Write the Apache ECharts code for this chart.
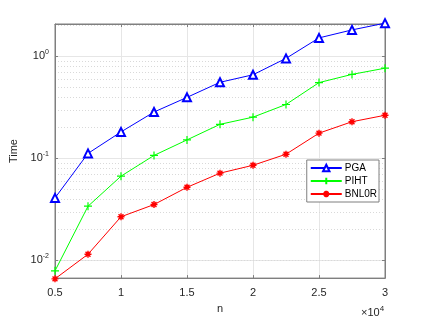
<!DOCTYPE html>
<html><head><meta charset="utf-8">
<script src="https://cdn.jsdelivr.net/npm/echarts@6/dist/echarts.min.js"></script>
<style>html,body{margin:0;padding:0;background:#fff}#c{width:425px;height:319px}</style>
</head><body><div id="c"></div>
<script>
const nValues = [5000, 7500, 10000, 12500, 15000, 17500, 20000, 22500, 25000, 27500, 30000];
const pga   = [0.041, 0.112, 0.182, 0.285, 0.397, 0.558, 0.661, 0.957, 1.52, 1.82, 2.12];
const piht  = [0.0079, 0.034, 0.067, 0.107, 0.152, 0.216, 0.254, 0.338, 0.554, 0.667, 0.767];
const bnl0r = [0.0066, 0.0115, 0.0268, 0.0353, 0.0521, 0.0717, 0.0857, 0.110, 0.177, 0.229, 0.265];
const seriesNames = ['PGA', 'PIHT', 'BNL0R'];
const xTicks = [5000, 10000, 15000, 20000, 25000, 30000];
const minorGrid = [0.007, 0.008, 0.009, 0.02, 0.03, 0.04, 0.05, 0.06, 0.07, 0.08, 0.09,
                   0.2, 0.3, 0.4, 0.5, 0.6, 0.7, 0.8, 0.9, 2];

const FONT = 'Liberation Sans';
const pair = arr => arr.map((v, i) => [nValues[i], v]);
const plusPath = 'path://M5,0 L5,10 M0,5 L10,5';
const starPath = 'path://M5,0 L5,10 M0,5 L10,5 M1.5,1.5 L8.5,8.5 M8.5,1.5 L1.5,8.5';
const logFmt = v => {
  const e = Math.log10(v);
  if (Math.abs(e - Math.round(e)) > 1e-6) return '';
  return '10{s|' + Math.round(e) + '}';
};
const chart = echarts.init(document.getElementById('c'), null, {renderer: 'canvas'});
const gridLeft = 55, gridRight = 40, gridTop = 24, gridBottom = 36;
chart.setOption({
  animation: false,
  backgroundColor: '#fff',
  textStyle: {fontFamily: FONT},
  grid: {left: gridLeft, right: gridRight, top: gridTop, bottom: gridBottom, show: true,
         borderColor: '#7f7f7f', borderWidth: 1, backgroundColor: '#fff'},
  legend: {
    orient: 'vertical', right: 46, top: 160,
    backgroundColor: '#fff', borderColor: '#7f7f7f', borderWidth: 1,
    padding: [3, 2, 3, 3], itemGap: 3, itemWidth: 31, itemHeight: 8,
    textStyle: {fontFamily: FONT, fontSize: 10, color: '#000', padding: [0, 0, 0, -2]},
    data: seriesNames
  },
  xAxis: [{
    type: 'value', min: 5000, max: 30000, interval: 5000,
    name: 'n', nameLocation: 'middle', nameGap: 24,
    nameTextStyle: {fontFamily: FONT, fontSize: 11, color: '#262626'},
    axisLine: {show: true, lineStyle: {color: '#7f7f7f'}},
    axisTick: {show: true, inside: true, length: 3, lineStyle: {color: '#7f7f7f'}},
    axisLabel: {fontFamily: FONT, fontSize: 11, color: '#262626', margin: 9,
                formatter: v => String(v / 10000)},
    splitLine: {show: true, lineStyle: {color: '#e6e6e6', width: 1}}
  }, {
    type: 'value', min: 5000, max: 30000, interval: 5000, position: 'top',
    axisLine: {show: true, lineStyle: {color: '#7f7f7f'}},
    axisTick: {show: true, inside: true, length: 3, lineStyle: {color: '#7f7f7f'}},
    axisLabel: {show: false}, splitLine: {show: false}
  }],
  yAxis: [{
    type: 'log', logBase: 10, min: 0.00671, max: 2.08,
    name: 'Time', nameLocation: 'middle', nameGap: 30,
    nameTextStyle: {fontFamily: FONT, fontSize: 11, color: '#262626'},
    axisLine: {show: true, lineStyle: {color: '#7f7f7f'}},
    axisTick: {show: true, inside: true, length: 3, lineStyle: {color: '#7f7f7f'}},
    axisLabel: {fontFamily: FONT, fontSize: 11, color: '#262626', margin: 6,
                formatter: logFmt,
                rich: {s: {fontFamily: FONT, fontSize: 7, color: '#262626', verticalAlign: 'top', padding: [0, 0, 8, 0]}}},
    splitLine: {show: true, lineStyle: {color: '#e6e6e6', width: 1}}
  }, {
    type: 'log', logBase: 10, min: 0.00671, max: 2.08, position: 'right',
    axisLine: {show: true, lineStyle: {color: '#7f7f7f'}},
    axisTick: {show: true, inside: true, length: 3, lineStyle: {color: '#7f7f7f'}},
    axisLabel: {show: false}, splitLine: {show: false}
  }],
  graphic: [{
    type: 'text', left: 361, top: 305,
    style: {text: '\u00d710{s|4}', fontFamily: FONT, fontSize: 11, fill: '#262626',
            rich: {s: {fontFamily: FONT, fontSize: 8, fill: '#262626', verticalAlign: 'top', padding: [0, 0, 8, 0]}}}
  }],
  series: [{
    name: 'PGA', type: 'line', data: pair(pga), clip: false,
    symbol: 'emptyTriangle', symbolSize: 8, showAllSymbol: true,
    lineStyle: {color: '#0000ff', width: 1},
    itemStyle: {color: '#0000ff', borderColor: '#0000ff', borderWidth: 1},
    markLine: {
      silent: true, symbol: ['none', 'none'], label: {show: false}, z: 0,
      lineStyle: {color: '#d9d9d9', type: [1, 2], width: 1},
      data: minorGrid.map(v => ({yAxis: v}))
    }, z: 5
  }, {
    name: 'PIHT', type: 'line', data: pair(piht), clip: false,
    symbol: plusPath, symbolSize: 8, showAllSymbol: true,
    lineStyle: {color: '#00ff00', width: 1},
    itemStyle: {color: '#00ff00', borderColor: '#00ff00', borderWidth: 1.2}, z: 4
  }, {
    name: 'BNL0R', type: 'line', data: pair(bnl0r), clip: false,
    symbol: starPath, symbolSize: 7, showAllSymbol: true,
    lineStyle: {color: '#ff0000', width: 1},
    itemStyle: {color: '#ff0000', borderColor: '#ff0000', borderWidth: 1.4}, z: 3
  }]
});
</script>
</body></html>
